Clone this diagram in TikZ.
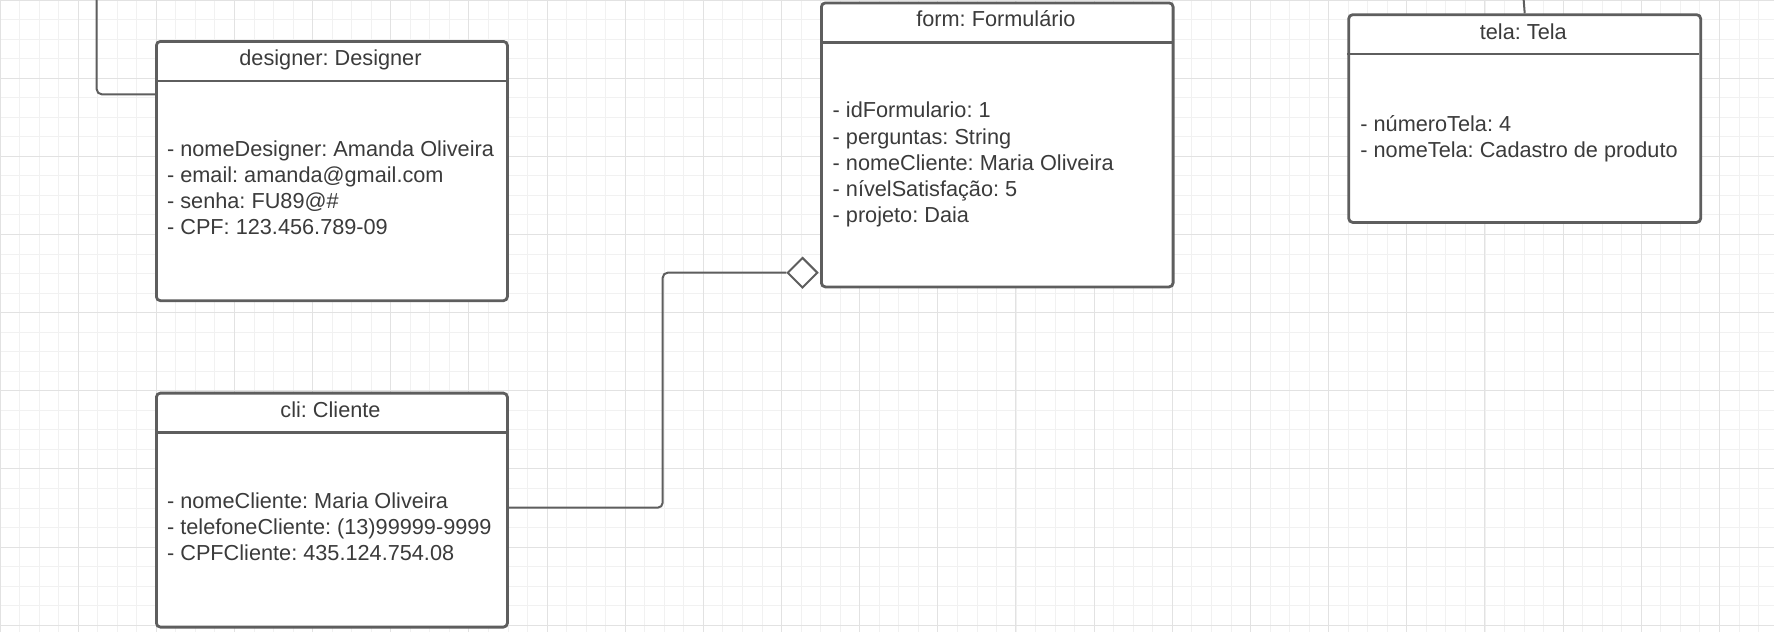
\documentclass[tikz,border=0pt]{standalone}
\usepackage{fontspec}
\setmainfont{Liberation Sans}
\usetikzlibrary{shapes.geometric}
\definecolor{boxline}{HTML}{5E5E5E}
\definecolor{txt}{HTML}{3B3B3B}
\definecolor{gminor}{HTML}{F1F1F1}
\definecolor{gmajor}{HTML}{E2E2E2}
\tikzset{
  umlbox/.style={draw=boxline, line width=1.4pt, rounded corners=2pt, fill=white,
    inner sep=0pt, anchor=north west},
  sepline/.style={draw=boxline, line width=1.4pt},
  title/.style={text=txt, anchor=base, inner sep=0pt, font=\fontsize{10.85pt}{13pt}\selectfont\frenchspacing},
  attr/.style={text=txt, anchor=base west, inner sep=0pt, font=\fontsize{10.85pt}{13pt}\selectfont\frenchspacing},
  conn/.style={draw=boxline, line width=1pt, rounded corners=2.5pt},
  aggr/.style={diamond, draw=boxline, line width=1pt, fill=white, inner sep=0pt,
    minimum width=15.2pt, minimum height=15.2pt, aspect=1},
}
\begin{document}
\begin{tikzpicture}[x=0.5pt, y=-0.5pt]
\useasboundingbox (0,0) rectangle (1774,632);
\fill[white] (0,0) rectangle (1774,632);
% grid
\begin{scope}
\clip (0,0) rectangle (1774,632);
\foreach \i in {0,...,91} {
  \draw[gminor, line width=0.5pt] ({\i*19.54},0) -- ({\i*19.54},632);
}
\foreach \j in {0,...,33} {
  \draw[gminor, line width=0.5pt] (0,{\j*19.54}) -- (1774,{\j*19.54});
}
\foreach \i in {0,...,23} {
  \draw[gmajor, line width=0.5pt] ({\i*78.15},0) -- ({\i*78.15},632);
}
\foreach \j in {0,...,8} {
  \draw[gmajor, line width=0.5pt] (0,{\j*78.15}) -- (1774,{\j*78.15});
}
\end{scope}

% coordinates for connector ends
\coordinate (dtop) at (96.7,-5);
\coordinate (dy) at (0,94.3);
\coordinate (cy) at (0,507.7);
\coordinate (cx) at (662.7,0);
\coordinate (ttop) at (1523.3,-5);

% Designer
\node[umlbox, minimum width=175.5pt, minimum height=129.65pt] (des) at (155,40) {};
\draw[sepline] (155,81) -- (506,81);
\node[title] (des-t) at (330.5,65.1) {designer: Designer};
\node[attr] (des-1) at (166.7,156.1) {- nomeDesigner: Amanda Oliveira};
\node[attr] (des-2) at (166.7,182.3) {- email: amanda@gmail.com};
\node[attr] (des-3) at (166.7,208.5) {- senha: FU89@\#};
\node[attr] (des-4) at (166.7,234.7) {- CPF: 123.456.789-09};

% Formulario
\node[umlbox, minimum width=175.85pt, minimum height=142pt] (form) at (820,1.5) {};
\draw[sepline] (820,42.3) -- (1171.7,42.3);
\node[title] (form-t) at (995.9,26.1) {form: Formulário};
\node[attr] (form-1) at (832.3,117.8) {- idFormulario: 1};
\node[attr] (form-2) at (832.3,144) {- perguntas: String};
\node[attr] (form-3) at (832.3,170.2) {- nomeCliente: Maria Oliveira};
\node[attr] (form-4) at (832.3,196.4) {- nívelSatisfação: 5};
\node[attr] (form-5) at (832.3,222.6) {- projeto: Daia};

% Tela
\node[umlbox, minimum width=176pt, minimum height=103.85pt] (tela) at (1347.3,13.3) {};
\draw[sepline] (1347.3,54) -- (1699.3,54);
\node[title] (tela-t) at (1523.3,39.5) {tela: Tela};
\node[attr] (tela-1) at (1360,131.1) {- númeroTela: 4};
\node[attr] (tela-2) at (1360,157.3) {- nomeTela: Cadastro de produto};

% Cliente
\node[umlbox, minimum width=175.5pt, minimum height=117pt] (cli) at (155,391.7) {};
\draw[sepline] (155,432.7) -- (506,432.7);
\node[title] (cli-t) at (330.5,417.8) {cli: Cliente};
\node[attr] (cli-1) at (166.7,508.5) {- nomeCliente: Maria Oliveira};
\node[attr] (cli-2) at (166.7,534.7) {- telefoneCliente: (13)99999-9999};
\node[attr] (cli-3) at (166.7,560.9) {- CPFCliente: 435.124.754.08};

% aggregation diamond
\node[aggr] (dia) at (802.5,272.7) {};

% connectors
\draw[conn] (des.west |- dy) -| (dtop);
\draw[conn] (cli.east |- cy) -- (cx |- cy) -- (cx |- dia.west) -- (dia.west);
\draw[conn] (tela.north) -- (ttop);
\end{tikzpicture}
\end{document}
